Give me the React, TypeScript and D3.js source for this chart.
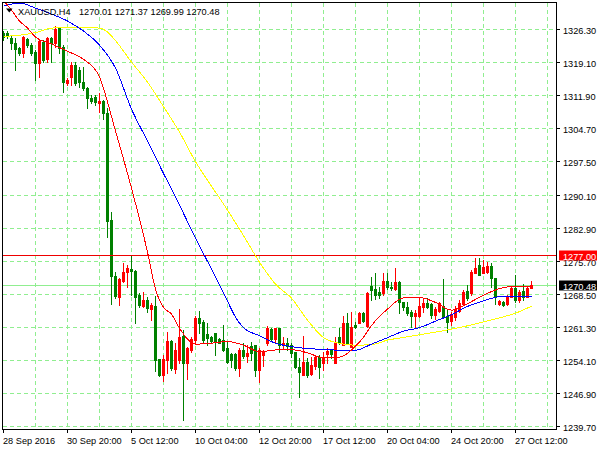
import React from 'react';
import * as d3 from 'd3';

const W = 600;
const H = 450;

// H4 bars, XAUUSD, 28 Sep 2016 .. 28 Oct 2016
const opens = [
  1325.58, 1325.52, 1324.36, 1323.40, 1322.18, 1321.09, 1324.15, 1322.90, 1321.44, 1319.04,
  1323.62, 1319.78, 1324.36, 1323.40, 1326.55, 1322.53, 1314.54, 1315.98, 1318.54, 1317.45,
  1314.89, 1313.58, 1311.40, 1311.62, 1310.18, 1310.68, 1308.00, 1284.72, 1272.50, 1267.98,
  1271.47, 1273.30, 1273.96, 1273.65, 1268.35, 1265.95, 1267.26, 1265.23, 1265.95, 1254.32,
  1250.90, 1254.17, 1258.31, 1252.20, 1254.17, 1259.41, 1253.58, 1256.35, 1258.53, 1263.40,
  1262.53, 1259.84, 1259.25, 1260.13, 1258.69, 1258.53, 1256.72, 1255.48, 1255.48, 1252.36,
  1256.35, 1255.04, 1257.22, 1257.44, 1251.99, 1255.26, 1257.81, 1260.93, 1258.69, 1261.22,
  1257.44, 1257.81, 1257.44, 1255.91, 1252.58, 1250.90, 1253.80, 1251.05, 1252.92, 1254.89,
  1253.58, 1255.48, 1256.35, 1253.58, 1259.25, 1257.44, 1262.18, 1257.07, 1261.81, 1262.31,
  1264.36, 1261.59, 1270.32, 1269.60, 1269.07, 1268.72, 1271.47, 1270.16, 1269.60, 1271.25,
  1266.89, 1265.80, 1264.71, 1263.77, 1263.77, 1265.80, 1266.67, 1266.39, 1263.99, 1264.86,
  1265.95, 1263.77, 1262.74, 1263.62, 1264.93, 1266.39, 1269.22, 1268.72, 1273.22, 1274.90,
  1273.22, 1273.44, 1274.68, 1272.00, 1266.39, 1266.89, 1266.39, 1267.98, 1269.81, 1267.26,
  1269.29, 1267.98, 1270.01,
];
const highs = [
  1325.96, 1325.96, 1325.08, 1324.36, 1322.53, 1324.86, 1324.36, 1323.27, 1321.81, 1323.99,
  1323.99, 1324.58, 1324.71, 1327.05, 1326.89, 1322.90, 1315.64, 1319.26, 1319.26, 1318.17,
  1318.17, 1313.80, 1311.99, 1311.99, 1312.36, 1310.90, 1309.09, 1286.46, 1273.37, 1272.00,
  1275.27, 1274.90, 1277.08, 1273.81, 1268.72, 1269.07, 1267.98, 1266.54, 1268.13, 1254.32,
  1255.26, 1260.34, 1258.53, 1257.81, 1265.23, 1260.71, 1257.07, 1259.25, 1263.77, 1264.86,
  1262.90, 1262.18, 1259.41, 1260.13, 1258.90, 1261.81, 1258.16, 1255.63, 1255.63, 1256.72,
  1257.81, 1257.44, 1258.16, 1257.44, 1256.79, 1256.35, 1261.65, 1261.22, 1261.22, 1261.22,
  1259.25, 1258.90, 1257.81, 1255.98, 1254.67, 1259.41, 1254.54, 1254.89, 1255.04, 1255.26,
  1256.00, 1256.72, 1256.57, 1259.25, 1261.22, 1263.77, 1264.36, 1264.71, 1262.53, 1264.71,
  1264.71, 1268.94, 1272.21, 1273.09, 1270.16, 1273.09, 1273.09, 1271.25, 1274.18, 1271.47,
  1266.89, 1266.89, 1265.08, 1265.08, 1267.63, 1267.63, 1267.63, 1266.54, 1265.67, 1266.89,
  1271.78, 1265.08, 1264.71, 1265.95, 1267.26, 1269.44, 1270.53, 1273.81, 1276.36, 1276.36,
  1275.99, 1275.62, 1275.27, 1272.00, 1267.26, 1267.11, 1268.35, 1270.16, 1272.72, 1269.44,
  1270.75, 1270.16, 1271.37,
];
const lows = [
  1323.99, 1324.43, 1322.03, 1317.45, 1320.72, 1320.35, 1322.53, 1320.72, 1315.26, 1315.98,
  1319.26, 1319.26, 1319.26, 1322.53, 1321.09, 1312.71, 1314.17, 1314.17, 1314.17, 1313.80,
  1313.08, 1309.09, 1310.18, 1309.81, 1308.35, 1306.75, 1281.07, 1266.39, 1267.70, 1266.17,
  1271.25, 1270.16, 1268.35, 1262.18, 1265.80, 1265.80, 1264.71, 1262.90, 1251.83, 1250.68,
  1249.65, 1251.40, 1251.99, 1251.27, 1253.45, 1241.08, 1249.96, 1255.98, 1257.81, 1259.99,
  1257.81, 1257.44, 1258.16, 1255.26, 1257.81, 1256.20, 1253.45, 1252.71, 1251.99, 1250.68,
  1254.54, 1253.80, 1254.17, 1250.74, 1249.43, 1252.86, 1257.44, 1258.53, 1258.16, 1255.98,
  1256.50, 1256.35, 1254.89, 1252.36, 1246.03, 1250.90, 1250.52, 1250.90, 1252.14, 1250.31,
  1251.99, 1253.58, 1254.54, 1253.58, 1257.59, 1257.44, 1257.59, 1256.94, 1261.09, 1262.18,
  1262.53, 1261.43, 1267.26, 1267.41, 1267.76, 1268.35, 1269.60, 1269.44, 1269.44, 1264.49,
  1265.08, 1263.99, 1261.30, 1261.43, 1263.62, 1264.71, 1265.45, 1263.27, 1263.05, 1264.71,
  1263.49, 1260.21, 1261.81, 1262.90, 1264.71, 1266.17, 1267.26, 1268.35, 1273.09, 1272.72,
  1273.09, 1273.22, 1270.03, 1266.39, 1266.17, 1265.95, 1266.17, 1267.98, 1266.89, 1266.89,
  1267.26, 1267.85, 1269.99,
];
const closes = [
  1324.71, 1324.86, 1323.27, 1321.96, 1321.09, 1324.58, 1322.90, 1321.22, 1318.91, 1323.84,
  1319.63, 1324.36, 1323.34, 1326.33, 1322.18, 1314.89, 1315.26, 1318.54, 1314.54, 1314.89,
  1313.58, 1311.27, 1310.68, 1310.40, 1310.68, 1308.00, 1284.56, 1272.56, 1268.13, 1271.78,
  1273.44, 1274.18, 1273.59, 1267.98, 1266.17, 1267.26, 1265.45, 1266.17, 1254.17, 1250.90,
  1254.32, 1258.31, 1252.36, 1256.35, 1259.25, 1253.58, 1256.72, 1258.69, 1263.40, 1262.31,
  1258.53, 1258.90, 1258.38, 1258.16, 1257.94, 1256.35, 1253.80, 1254.17, 1252.36, 1256.35,
  1255.04, 1255.76, 1255.70, 1251.99, 1256.35, 1256.13, 1261.22, 1258.69, 1261.22, 1257.44,
  1257.81, 1257.22, 1255.76, 1252.58, 1251.62, 1253.67, 1250.90, 1253.08, 1254.89, 1252.71,
  1254.89, 1256.20, 1255.48, 1258.16, 1258.16, 1262.18, 1257.66, 1261.43, 1261.30, 1264.36,
  1262.74, 1268.72, 1269.44, 1268.35, 1268.35, 1271.47, 1270.16, 1269.81, 1271.25, 1266.89,
  1265.67, 1264.49, 1263.77, 1264.49, 1265.95, 1266.67, 1265.67, 1263.99, 1265.23, 1266.67,
  1263.49, 1262.53, 1264.21, 1265.08, 1266.67, 1269.07, 1267.76, 1273.44, 1274.18, 1272.72,
  1274.53, 1274.68, 1272.00, 1267.98, 1267.11, 1266.17, 1267.98, 1269.81, 1267.26, 1269.07,
  1267.98, 1269.81, 1270.48,
];

// moving averages, read at selected bars
const maRedIdx = [0, 2, 4, 6, 8, 12, 16, 20, 24, 28, 32, 36, 38, 40, 42, 44, 48, 52, 56, 60, 64, 68, 72, 76, 80, 84, 88, 90, 92, 96, 100, 104, 108, 112, 116, 120, 124, 128, 132];
const maRed = [1332.61, 1330.54, 1328.14, 1326.61, 1324.65, 1323.16, 1321.55, 1319.80, 1315.92, 1304.14, 1291.70, 1277.73, 1269.66, 1265.67, 1264.21, 1261.15, 1257.66, 1257.88, 1258.23, 1257.44, 1256.02, 1256.39, 1256.46, 1255.78, 1254.67, 1254.82, 1257.22, 1259.19, 1261.72, 1265.30, 1267.76, 1267.85, 1266.76, 1265.08, 1266.50, 1268.35, 1269.77, 1270.32, 1270.32];
const maBlueIdx = [0, 4, 8, 12, 16, 20, 24, 28, 32, 36, 40, 44, 48, 52, 56, 58, 60, 64, 68, 72, 76, 80, 84, 88, 92, 96, 100, 104, 108, 112, 116, 120, 124, 128, 132];
const maBlue = [1331.41, 1332.07, 1330.97, 1329.67, 1328.14, 1325.96, 1322.90, 1317.88, 1308.94, 1301.95, 1294.91, 1287.99, 1280.79, 1274.02, 1267.04, 1263.55, 1261.26, 1259.51, 1257.88, 1257.11, 1256.72, 1256.50, 1256.35, 1256.35, 1257.66, 1259.08, 1260.50, 1261.26, 1262.68, 1264.10, 1265.89, 1267.09, 1267.98, 1267.98, 1267.98];
const maYellowIdx = [0, 4, 8, 12, 16, 20, 24, 26, 28, 32, 36, 40, 44, 48, 52, 56, 60, 64, 68, 72, 76, 80, 84, 88, 92, 96, 100, 104, 108, 112, 116, 120, 124, 128, 132];
const maYellow = [1324.82, 1325.04, 1325.63, 1326.59, 1326.79, 1326.72, 1326.61, 1325.74, 1323.88, 1319.19, 1314.83, 1309.48, 1303.92, 1297.48, 1292.14, 1286.90, 1281.33, 1275.55, 1270.75, 1267.70, 1262.90, 1259.08, 1257.83, 1257.44, 1257.55, 1258.53, 1259.14, 1259.71, 1260.28, 1260.93, 1261.67, 1262.53, 1263.40, 1264.42, 1265.95];

const yTickLabels = ['1326.30', '1319.10', '1311.90', '1304.70', '1297.50', '1290.10', '1282.90', '1275.70', '1268.50', '1261.30', '1254.10', '1246.90', '1239.70'];
const xTickLabels = ['28 Sep 2016', '30 Sep 20:00', '5 Oct 12:00', '10 Oct 04:00', '12 Oct 20:00', '17 Oct 12:00', '20 Oct 04:00', '24 Oct 20:00', '27 Oct 12:00'];
const xTickBars = [0, 16, 32, 48, 64, 80, 96, 112, 128];
const gridBars = [8, 16, 24, 32, 40, 48, 56, 64, 72, 80, 88, 96, 104, 112, 120, 128, 136];

const symbolTitle = 'XAUUSD,H4';
const lastOHLC = '1270.01 1271.37 1269.99 1270.48';
const levelPrice = 1277.0;
const bidPrice = 1270.48;

const FONT = '"Liberation Sans", Arial, sans-serif';
const FS = 9.2;

export default function App() {
  const left = 2.5, right = 556.5, top = 2.5, bottom = 429.5;
  const x = d3.scaleLinear().domain([0, 132]).range([3, 531]);
  const y = d3.scaleLinear().domain([1239.7, 1326.3]).range([426.5, 29.5]);
  const cy = (v: number) => Math.floor(y(v)) + 0.5;

  const mkLine = (idx: number[], vals: number[]) =>
    d3.line<number>()
      .x((_, k) => x(idx[k]) + 0.5)
      .y((v) => y(v))
      .curve(d3.curveMonotoneX)(vals) || '';

  const bidY = cy(bidPrice);
  const lvlY = cy(levelPrice);

  return (
    <svg width={W} height={H} style={{ position: 'absolute', left: 0, top: 0, background: '#fff' }}
      fontFamily={FONT} fontSize={FS}>
      <defs>
        <clipPath id="plot">
          <rect x={3} y={3} width={553} height={426} />
        </clipPath>
      </defs>
      <rect x={0} y={0} width={W} height={H} fill="#fff" />
      <g clipPath="url(#plot)">
        {yTickLabels.map((t) => (
          <line key={'h' + t} x1={3} x2={556} y1={cy(+t)} y2={cy(+t)}
            stroke="#90ee90" strokeDasharray="4,3" />
        ))}
        {gridBars.map((b) => (
          <line key={'v' + b} x1={x(b) + 0.5} x2={x(b) + 0.5} y1={3} y2={429}
            stroke="#90ee90" strokeDasharray="4,3" />
        ))}
        <line x1={3} x2={556} y1={bidY} y2={bidY} stroke="#90ee90" />
        {opens.map((o, i) => {
          const c = closes[i];
          const bull = c >= o;
          const col = bull ? '#ff0000' : '#008000';
          const yt = Math.round(y(Math.max(o, c)));
          const yb = Math.round(y(Math.min(o, c)));
          const cx = x(i);
          return (
            <g key={i}>
              <line x1={cx + 0.5} x2={cx + 0.5} y1={Math.round(y(highs[i]))} y2={Math.round(y(lows[i])) + 1}
                stroke={col} />
              <rect x={cx - 1} y={yt} width={3} height={Math.max(1, yb - yt + 1)} fill={col} />
            </g>
          );
        })}
        <line x1={3} x2={556} y1={lvlY} y2={lvlY} stroke="#ee0000" />
        <g shapeRendering="crispEdges">
          <path d={mkLine(maYellowIdx, maYellow)} fill="none" stroke="#ffff00" strokeWidth={1} />
          <path d={mkLine(maBlueIdx, maBlue)} fill="none" stroke="#0000ff" strokeWidth={1} />
          <path d={mkLine(maRedIdx, maRed)} fill="none" stroke="#ff0000" strokeWidth={1} />
        </g>
      </g>
      <rect x={left} y={top} width={right - left} height={bottom - top} fill="none" stroke="#000" />

      {/* title */}
      <polygon points="6,8.5 12.5,8.5 9.25,12.5" fill="#000" />
      <text x={18} y={14.5} fill="#000">{symbolTitle}</text>
      <text x={79} y={14.5} fill="#000">{lastOHLC}</text>

      {/* right price axis */}
      {yTickLabels.map((t) => (
        <g key={'yt' + t}>
          <line x1={557} x2={560} y1={cy(+t)} y2={cy(+t)} stroke="#000" />
          <text x={563} y={cy(+t) + 4} fill="#000">{t}</text>
        </g>
      ))}
      <rect x={559} y={lvlY - 5} width={38} height={10} fill="#ff0000" />
      <text x={563} y={lvlY + 4} fill="#fff">{levelPrice.toFixed(2)}</text>
      <rect x={559} y={bidY - 5} width={38} height={10} fill="#000" />
      <text x={563} y={bidY + 4} fill="#fff">{bidPrice.toFixed(2)}</text>

      {/* time axis */}
      {xTickBars.map((b, k) => (
        <g key={'xt' + b}>
          <line x1={x(b) + 0.5} x2={x(b) + 0.5} y1={430} y2={433} stroke="#000" />
          <text x={x(b)} y={444} fill="#000">{xTickLabels[k]}</text>
        </g>
      ))}
    </svg>
  );
}
